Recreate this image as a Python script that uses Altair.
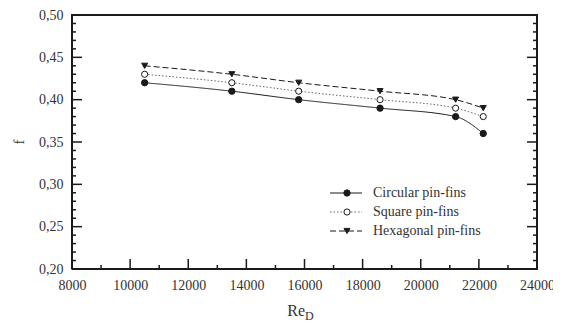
import altair as alt
import pandas as pd

series = ["Circular pin-fins", "Square pin-fins", "Hexagonal pin-fins"]
re_d = [10500, 13500, 15800, 18600, 21200, 22150]
f_circular = [0.42, 0.41, 0.40, 0.39, 0.38, 0.36]
f_square = [0.43, 0.42, 0.41, 0.40, 0.39, 0.38]
f_hexagonal = [0.44, 0.43, 0.42, 0.41, 0.40, 0.39]

x_major = [8000, 10000, 12000, 14000, 16000, 18000, 20000, 22000, 24000]
x_minor = [9000, 11000, 13000, 15000, 17000, 19000, 21000, 23000]
y_major = [0.20, 0.25, 0.30, 0.35, 0.40, 0.45, 0.50]
y_minor = [round(0.20 + 0.01 * i, 2) for i in range(31) if i % 5 != 0]

FONT = "Liberation Serif"
W, H = 465, 254
INK = "#1a1a1a"
X0, X1 = 8000, 24000
Y0, Y1 = 0.20, 0.50
# tick lengths converted from pixels to data units
PX_X = (X1 - X0) / W
PX_Y = (Y1 - Y0) / H

rows = []
for name, vals in zip(series, [f_circular, f_square, f_hexagonal]):
    for x, y in zip(re_d, vals):
        rows.append({"series": name, "Re": x, "f": y})
df = pd.DataFrame(rows)

xs = alt.Scale(domain=[X0, X1], nice=False, zero=False)
ys = alt.Scale(domain=[Y0, Y1], nice=False, zero=False)

dash_scale = alt.Scale(domain=series, range=[[1, 0], [1.5, 2], [6, 3]])
color_scale = alt.Scale(domain=series, range=[INK, "#666666", INK])
fill_scale = alt.Scale(domain=series, range=[INK, "#ffffff", INK])
shape_scale = alt.Scale(domain=series, range=["circle", "circle", "triangle-down"])
size_scale = alt.Scale(domain=series, range=[40, 36, 50])

base = alt.Chart(df)

lines = base.mark_line(interpolate="monotone", strokeWidth=1).encode(
    x=alt.X("Re:Q", scale=xs,
            axis=alt.Axis(values=x_major, format="d", title=None, grid=False,
                          ticks=False, domain=False, labelPadding=9,
                          labelFlush=False,
                          labelFont=FONT, labelFontSize=14, labelColor="#333")),
    y=alt.Y("f:Q", scale=ys,
            axis=alt.Axis(values=y_major, grid=False, ticks=False, title=None,
                          domain=False, labelPadding=9, labelFlush=False,
                          labelExpr="replace(format(datum.value, '.2f'), '.', ',')",
                          labelFont=FONT, labelFontSize=14, labelColor="#333")),
    color=alt.Color("series:N", scale=color_scale, legend=None),
    strokeDash=alt.StrokeDash("series:N", scale=dash_scale, legend=None),
    detail="series:N",
)

points = base.mark_point(filled=False, strokeWidth=1, opacity=1).encode(
    x=alt.X("Re:Q", scale=xs),
    y=alt.Y("f:Q", scale=ys),
    shape=alt.Shape("series:N", scale=shape_scale, legend=None),
    fill=alt.Fill("series:N", scale=fill_scale, legend=None),
    size=alt.Size("series:N", scale=size_scale, legend=None),
    stroke=alt.value(INK),
)

# frame and inward ticks drawn as line paths (segments grouped by id)
seg_rows = []
sid = 0


def seg(xa, ya, xb, yb, w):
    global sid
    seg_rows.append({"id": sid, "o": 0, "x": xa, "y": ya, "w": w})
    seg_rows.append({"id": sid, "o": 1, "x": xb, "y": yb, "w": w})
    sid += 1


for v in y_major:
    seg(X0, v, X0 + 10 * PX_X, v, "t")
    seg(X1, v, X1 - 10 * PX_X, v, "t")
for v in y_minor:
    seg(X0, v, X0 + 4 * PX_X, v, "t")
    seg(X1, v, X1 - 4 * PX_X, v, "t")
for v in x_major:
    seg(v, Y0, v, Y0 + 10 * PX_Y, "t")
for v in x_minor:
    seg(v, Y0, v, Y0 + 4 * PX_Y, "t")
seg_df = pd.DataFrame(seg_rows)

tick_lines = alt.Chart(seg_df).mark_line(strokeWidth=1.5, color=INK).encode(
    x=alt.X("x:Q", scale=xs), y=alt.Y("y:Q", scale=ys),
    detail="id:N", order="o:Q")

frame_df = pd.DataFrame({"x": [X0, X1, X1, X0, X0],
                         "y": [Y0, Y0, Y1, Y1, Y0],
                         "o": [0, 1, 2, 3, 4]})
frame = alt.Chart(frame_df).mark_line(strokeWidth=2, color=INK).encode(
    x=alt.X("x:Q", scale=xs), y=alt.Y("y:Q", scale=ys), order="o:Q")

# y-axis title "f" (rotated) and x-axis title "Re" with subscript "D"
ft_df = pd.DataFrame({"t": ["f"]})
ytitle = alt.Chart(ft_df).mark_text(
    font=FONT, fontSize=15, angle=270, align="center", baseline="middle", color="#333"
).encode(text="t:N", x=alt.value(-53), y=alt.value(127))
title_df = pd.DataFrame({"t": ["Re"]})
sub_df = pd.DataFrame({"t": ["D"]})
xtitle = alt.Chart(title_df).mark_text(
    font=FONT, fontSize=16, align="right", baseline="alphabetic", color="#333"
).encode(text="t:N", x=alt.value(233), y=alt.value(H + 47))
xsub = alt.Chart(sub_df).mark_text(
    font=FONT, fontSize=12, align="left", baseline="alphabetic", color="#333"
).encode(text="t:N", x=alt.value(233), y=alt.value(H + 51))

# manual legend, one row per series
leg_df = pd.DataFrame({"series": series})
row_y = [178, 197, 216]
legend_layers = []
for name, yy in zip(series, row_y):
    sub = alt.Chart(leg_df).transform_filter(alt.datum.series == name)
    legend_layers.append(sub.mark_rule(strokeWidth=1).encode(
        y=alt.value(yy), x=alt.value(258), x2=alt.value(290),
        color=alt.Color("series:N", scale=color_scale, legend=None),
        strokeDash=alt.StrokeDash("series:N", scale=dash_scale, legend=None)))
    legend_layers.append(sub.mark_point(filled=False, strokeWidth=1, opacity=1).encode(
        y=alt.value(yy), x=alt.value(275),
        shape=alt.Shape("series:N", scale=shape_scale, legend=None),
        fill=alt.Fill("series:N", scale=fill_scale, legend=None),
        size=alt.Size("series:N", scale=size_scale, legend=None),
        stroke=alt.value(INK)))
    legend_layers.append(sub.mark_text(
        font=FONT, fontSize=14, align="left", baseline="middle", color="#333"
    ).encode(y=alt.value(yy), x=alt.value(301), text="series:N"))

chart = alt.layer(lines, points, tick_lines, frame, ytitle, xtitle, xsub,
                  *legend_layers).properties(
    width=W, height=H,
    autosize=alt.AutoSizeParams(type="none"),
    padding={"left": 64, "top": 7, "right": 16, "bottom": 55},
).configure_view(stroke=INK, strokeWidth=1.5)

chart.save("out.html", embed_options={"renderer": "svg", "actions": False})
